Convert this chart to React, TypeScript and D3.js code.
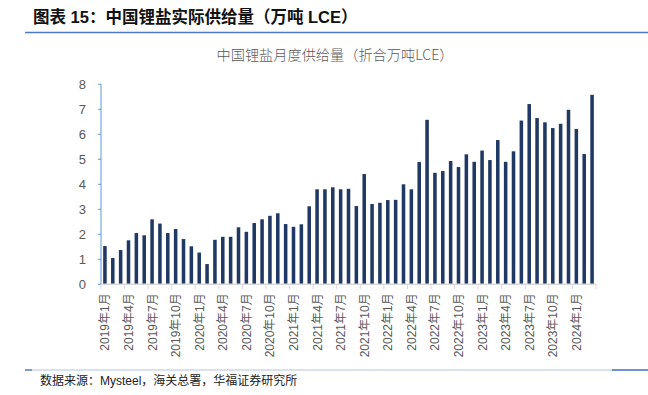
import * as React from "react";
import * as d3 from "d3";

// monthly supply, 2019-01 .. 2024-03 (万吨 LCE)
const startYear = 2019;
const values = [
  1.53, 1.05, 1.37, 1.76, 2.05, 1.96, 2.6, 2.43, 2.05, 2.21, 1.81, 1.52,
  1.27, 0.81, 1.78, 1.9, 1.9, 2.28, 2.1, 2.45, 2.6, 2.74, 2.84, 2.41,
  2.3, 2.4, 3.12, 3.8, 3.8, 3.88, 3.8, 3.82, 3.13, 4.41, 3.21, 3.26,
  3.37, 3.38, 4.0, 3.8, 4.89, 6.58, 4.46, 4.53, 4.93, 4.69, 5.2, 4.9,
  5.35, 4.97, 5.77, 4.9, 5.32, 6.55, 7.21, 6.65, 6.48, 6.25, 6.42, 6.98,
  6.21, 5.21, 7.58,
];
const months = values.map((_, i) => `${startYear + Math.floor(i / 12)}年${(i % 12) + 1}月`);
const yTicks = [0, 1, 2, 3, 4, 5, 6, 7, 8];

const title = "图表 15：中国锂盐实际供给量（万吨 LCE）";
const chartTitle = "中国锂盐月度供给量（折合万吨LCE）";
const source = "数据来源：Mysteel，海关总署，华福证券研究所";

const W = 648,
  H = 395;
const left = 101,
  right = 596,
  top = 84.3,
  bottom = 284.3;

export default function App() {
  const x = d3.scaleBand<string>().domain(months).range([left, right]).paddingInner(0.55).paddingOuter(0.275);
  const y = d3.scaleLinear().domain([0, 8]).range([bottom, top]);
  const step = x.step();
  const sans = "'Liberation Sans', Arial, 'Noto Sans CJK SC', sans-serif";

  return (
    <svg width={W} height={H} style={{ position: "absolute", left: 0, top: 0, background: "#fff" }}>
      <text x={33} y={23} fontSize={16.5} fontWeight="bold" fill="#111" fontFamily={sans}>
        {title}
      </text>
      <line x1={25} x2={648} y1={32.5} y2={32.5} stroke="#4a78c2" strokeWidth={1.3} />

      <text x={335} y={60} textAnchor="middle" fontSize={14.2} fill="#595959" fontFamily="'Noto Sans CJK SC', sans-serif" fontWeight={300}>
        {chartTitle}
      </text>

      {/* y axis */}
      <line x1={left} x2={left} y1={top} y2={bottom} stroke="#5b9bd5" strokeWidth={1} />
      {yTicks.map((t) => (
        <g key={t}>
          <line x1={left - 3} x2={left} y1={y(t)} y2={y(t)} stroke="#5b9bd5" />
          <text x={86} y={y(t) + 4.5} textAnchor="end" fontSize={13} fill="#595959" fontFamily={sans}>
            {t}
          </text>
        </g>
      ))}

      {/* bars */}
      {values.map((v, i) => (
        <rect key={i} x={x(months[i])} y={y(v)} width={x.bandwidth()} height={y(0) - y(v)} fill="#203864" />
      ))}

      {/* x axis */}
      <line x1={left} x2={right} y1={bottom} y2={bottom} stroke="#d9d9d9" strokeWidth={1.5} />
      {months.map((m, i) =>
        i % 3 === 0 ? (
          <line key={"t" + i} x1={left + i * step} x2={left + i * step} y1={bottom} y2={bottom + 5} stroke="#d9d9d9" />
        ) : null
      )}
      <line x1={right} x2={right} y1={bottom} y2={bottom + 5} stroke="#d9d9d9" />
      {months.map((m, i) =>
        i % 3 === 0 ? (
          <text
            key={"l" + i}
            transform={`translate(${(x(m) ?? 0) + x.bandwidth() / 2 + 4.5},${bottom + 9}) rotate(-90)`}
            textAnchor="end"
            fontSize={12}
            fill="#595959"
            fontFamily={sans}
          >
            {m}
          </text>
        ) : null
      )}

      <line x1={25} x2={648} y1={370} y2={370} stroke="#b4c3e0" strokeWidth={1} />
      <line x1={25} x2={32} y1={370} y2={370} stroke="#4a78c2" strokeWidth={1.3} />
      <line x1={612} x2={648} y1={370} y2={370} stroke="#4a78c2" strokeWidth={1.3} />
      <text x={40} y={385} fontSize={12} fill="#222" fontFamily={sans}>
        {source}
      </text>
    </svg>
  );
}
